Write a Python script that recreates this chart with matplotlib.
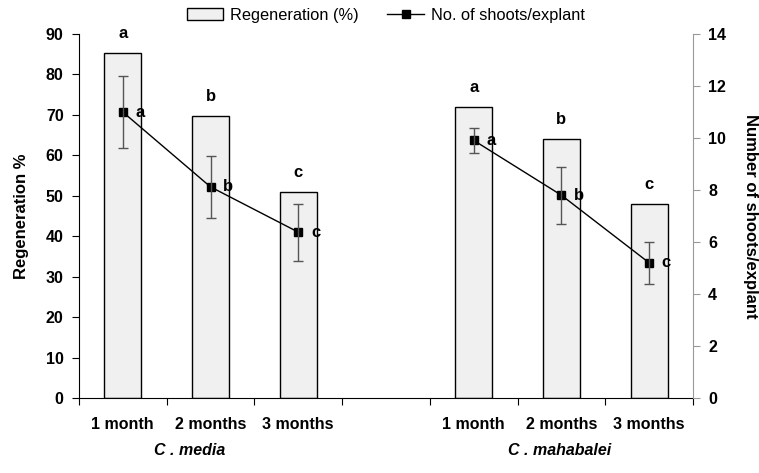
import matplotlib.pyplot as plt
import numpy as np

plt.rcParams['font.family'] = ['Liberation Sans', 'DejaVu Sans']

# data
months = ['1 month', '2 months', '3 months']
species = ['C . media', 'C . mahabalei']
regen_media = [85.2, 69.8, 51.0]
regen_maha = [72.0, 64.0, 48.0]
shoots_media = [11.0, 8.12, 6.38]
shoots_media_err = [1.37, 1.19, 1.10]
shoots_maha = [9.91, 7.80, 5.20]
shoots_maha_err = [0.48, 1.10, 0.80]
letters = ['a', 'b', 'c']

x_media = np.array([0, 1, 2])
x_maha = np.array([4, 5, 6])

fs = 11.5

fig = plt.figure(figsize=(7.59, 4.73), dpi=100)
ax = fig.add_axes([0.104, 0.1586, 0.809, 0.7695])
ax2 = ax.twinx()

bars1 = ax.bar(x_media, regen_media, width=0.42, color='#f0f0f0', edgecolor='black', lw=1, label='Regeneration (%)')
ax.bar(x_maha, regen_maha, width=0.42, color='#f0f0f0', edgecolor='black', lw=1)

for xs, ys in [(x_media, regen_media), (x_maha, regen_maha)]:
    for xi, yi, l in zip(xs, ys, letters):
        ax.annotate(l, (xi, yi), xytext=(0, 14), textcoords='offset points',
                    ha='center', va='center', fontsize=12, fontweight='bold')

ax.set_ylim(0, 90)
ax.set_xlim(-0.5, 6.5)
ax.set_yticks(range(0, 91, 10))
ax.set_xticks(np.arange(-0.5, 7, 1))
ax.set_xticklabels([])
ax.set_xticks(list(x_media) + list(x_maha), minor=True)
ax.set_xticklabels(months + months, minor=True)
ax.tick_params(axis='x', which='major', length=5, direction='out')
ax.tick_params(axis='x', which='minor', length=0, pad=14, labelsize=fs)
for lab in ax.get_xticklabels(minor=True):
    lab.set_fontweight('bold')
ax.tick_params(axis='y', length=5, pad=6, labelsize=fs)
for lab in ax.get_yticklabels():
    lab.set_fontweight('bold')
ax.set_ylabel('Regeneration %', fontsize=12, fontweight='bold', labelpad=12)
ax.spines['top'].set_visible(False)
ax.spines['right'].set_visible(False)

line, = ax2.plot(x_media, shoots_media, color='black', lw=1, marker='s', ms=6, label='No. of shoots/explant')
ax2.errorbar(x_media, shoots_media, yerr=shoots_media_err, fmt='none', ecolor='#555555', elinewidth=1, capsize=3.6)
ax2.plot(x_maha, shoots_maha, color='black', lw=1, marker='s', ms=6)
ax2.errorbar(x_maha, shoots_maha, yerr=shoots_maha_err, fmt='none', ecolor='#555555', elinewidth=1, capsize=3.6)

for xs, ys in [(x_media, shoots_media), (x_maha, shoots_maha)]:
    for xi, yi, l in zip(xs, ys, letters):
        ax2.annotate(l, (xi, yi), xytext=(12.5, 0), textcoords='offset points',
                     ha='center', va='center', fontsize=12, fontweight='bold')

ax2.set_ylim(0, 14)
ax2.set_yticks(range(0, 15, 2))
ax2.tick_params(axis='y', length=5, pad=6, color='#999999', labelsize=fs)
for lab in ax2.get_yticklabels():
    lab.set_fontweight('bold')
ax2.set_ylabel('Number of shoots/explant', fontsize=12, fontweight='bold', rotation=270, labelpad=23)
ax2.spines['top'].set_visible(False)
ax2.spines['left'].set_visible(False)
ax2.spines['right'].set_color('#999999')
ax2.spines['bottom'].set_visible(False)

# species labels under each group
for xc, name in zip([0.76, 4.98], species):
    ax.annotate(name, (xc, 0), xytext=(0, -37.5), textcoords='offset points',
                xycoords=ax.get_xaxis_transform(), ha='center', va='center',
                fontsize=fs, fontweight='bold', style='italic')

fig.legend(handles=[bars1, line], labels=['Regeneration (%)', 'No. of shoots/explant'],
           loc='center', bbox_to_anchor=(0.508, 0.968), ncol=2, frameon=False,
           fontsize=11.8, handlelength=2.25, columnspacing=1.75, handletextpad=0.4)

fig.savefig('out.png', dpi=100)
